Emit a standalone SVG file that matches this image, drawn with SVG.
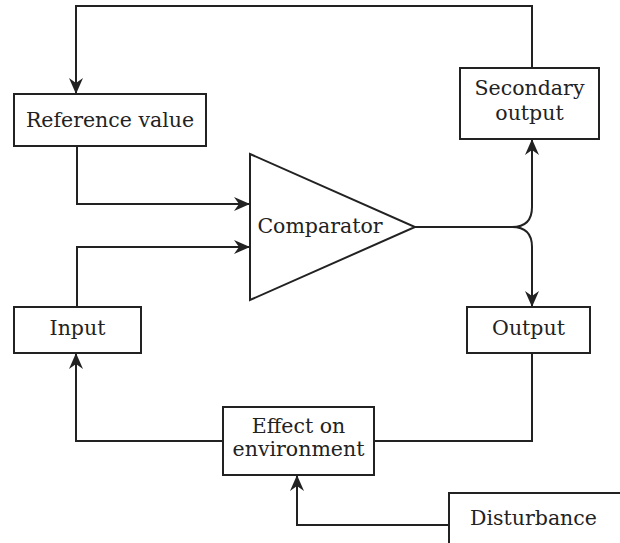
<svg xmlns="http://www.w3.org/2000/svg" width="620" height="543" viewBox="0 0 620 543">
<style>
.box{fill:#fff;stroke:#222;stroke-width:2}
.ln{fill:none;stroke:#222;stroke-width:2}
.t{font-family:"DejaVu Serif","Liberation Serif",serif;font-size:20.5px;fill:#222;text-anchor:middle}
</style>
<defs>
<marker id="ah" markerUnits="userSpaceOnUse" markerWidth="18" markerHeight="14" refX="16" refY="7" orient="auto">
<path d="M0,0 L16,7 L0,14 L5,7 Z" fill="#222"/>
</marker>
</defs>
<rect width="620" height="543" fill="#fff"/>
<g id="connectors">
<path class="ln" d="M532,68 V6 H76 V94" marker-end="url(#ah)"/>
<path class="ln" d="M77,146 V204 H250" marker-end="url(#ah)"/>
<path class="ln" d="M77,307 V247 H250" marker-end="url(#ah)"/>
<path class="ln" d="M415,227 H512 Q532,227 532,207 V139" marker-end="url(#ah)"/>
<path class="ln" d="M512,227 Q532,227 532,247 V307" marker-end="url(#ah)"/>
<path class="ln" d="M532,353 V441 H374"/>
<path class="ln" d="M223,441 H76 V353" marker-end="url(#ah)"/>
<path class="ln" d="M449,525 H297 V475" marker-end="url(#ah)"/>
</g>
<g id="reference">
<rect class="box" x="14" y="94" width="192" height="52"/>
<text class="t" x="110" y="127">Reference value</text>
</g>
<g id="secondary">
<rect class="box" x="460" y="68" width="139" height="71"/>
<text class="t" x="529.5" y="95">Secondary</text>
<text class="t" x="529.5" y="120">output</text>
</g>
<g id="comparator">
<path class="box" d="M250,154 L415,227 L250,300 Z"/>
<text class="t" x="320" y="233">Comparator</text>
</g>
<g id="input">
<rect class="box" x="14" y="307" width="127" height="46"/>
<text class="t" x="77.5" y="335">Input</text>
</g>
<g id="output">
<rect class="box" x="467" y="307" width="123" height="46"/>
<text class="t" x="528.5" y="335">Output</text>
</g>
<g id="effect">
<rect class="box" x="223" y="407" width="151" height="68"/>
<text class="t" x="298.5" y="433">Effect on</text>
<text class="t" x="298.5" y="456">environment</text>
</g>
<g id="disturbance">
<rect class="box" x="449" y="493" width="180" height="60"/>
<text class="t" x="470" y="525" style="text-anchor:start">Disturbance</text>
</g>
</svg>
